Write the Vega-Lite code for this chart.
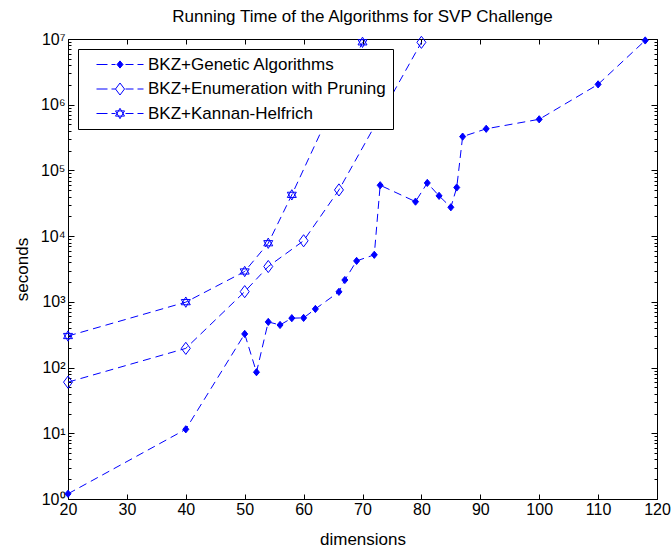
{
  "$schema": "https://vega.github.io/schema/vega-lite/v6.json",
  "width": 589,
  "height": 460,
  "autosize": {"type": "none"},
  "padding": {"left": 68, "top": 39, "right": 14, "bottom": 49},
  "background": "white",
  "title": {"text": "Running Time of the Algorithms for SVP Challenge", "font": "Liberation Sans", "fontSize": 17, "fontWeight": "normal", "color": "black", "anchor": "middle", "offset": 5},
  "config": {
    "view": {"stroke": null},
    "axis": {"grid": false, "domainColor": "black", "domainWidth": 1, "tickColor": "black", "tickWidth": 1, "labelColor": "black", "labelFont": "Liberation Sans", "labelFontSize": 16, "titleFont": "Liberation Sans", "titleFontSize": 17, "titleFontWeight": "normal", "titleColor": "black", "labelFlush": false, "labelOverlap": false}
  },
  "data": {
    "values": [
      {"series": "BKZ+Genetic Algorithms", "dim": 20, "seconds": 1.2},
      {"series": "BKZ+Genetic Algorithms", "dim": 40, "seconds": 11.5},
      {"series": "BKZ+Genetic Algorithms", "dim": 50, "seconds": 325},
      {"series": "BKZ+Genetic Algorithms", "dim": 52, "seconds": 85},
      {"series": "BKZ+Genetic Algorithms", "dim": 54, "seconds": 495},
      {"series": "BKZ+Genetic Algorithms", "dim": 56, "seconds": 445},
      {"series": "BKZ+Genetic Algorithms", "dim": 58, "seconds": 565},
      {"series": "BKZ+Genetic Algorithms", "dim": 60, "seconds": 570},
      {"series": "BKZ+Genetic Algorithms", "dim": 62, "seconds": 780},
      {"series": "BKZ+Genetic Algorithms", "dim": 66, "seconds": 1420},
      {"series": "BKZ+Genetic Algorithms", "dim": 67, "seconds": 2150},
      {"series": "BKZ+Genetic Algorithms", "dim": 69, "seconds": 4200},
      {"series": "BKZ+Genetic Algorithms", "dim": 72, "seconds": 5200},
      {"series": "BKZ+Genetic Algorithms", "dim": 73, "seconds": 59500},
      {"series": "BKZ+Genetic Algorithms", "dim": 79, "seconds": 33500},
      {"series": "BKZ+Genetic Algorithms", "dim": 81, "seconds": 64500},
      {"series": "BKZ+Genetic Algorithms", "dim": 83, "seconds": 41000},
      {"series": "BKZ+Genetic Algorithms", "dim": 85, "seconds": 27500},
      {"series": "BKZ+Genetic Algorithms", "dim": 86, "seconds": 55000},
      {"series": "BKZ+Genetic Algorithms", "dim": 87, "seconds": 327000},
      {"series": "BKZ+Genetic Algorithms", "dim": 91, "seconds": 430000},
      {"series": "BKZ+Genetic Algorithms", "dim": 100, "seconds": 600000},
      {"series": "BKZ+Genetic Algorithms", "dim": 110, "seconds": 2040000},
      {"series": "BKZ+Genetic Algorithms", "dim": 118, "seconds": 9500000},
      {"series": "BKZ+Enumeration with Pruning", "dim": 20, "seconds": 60},
      {"series": "BKZ+Enumeration with Pruning", "dim": 40, "seconds": 196},
      {"series": "BKZ+Enumeration with Pruning", "dim": 50, "seconds": 1430},
      {"series": "BKZ+Enumeration with Pruning", "dim": 54, "seconds": 3450},
      {"series": "BKZ+Enumeration with Pruning", "dim": 60, "seconds": 8500},
      {"series": "BKZ+Enumeration with Pruning", "dim": 66, "seconds": 50500},
      {"series": "BKZ+Enumeration with Pruning", "dim": 80, "seconds": 8900000},
      {"series": "BKZ+Kannan-Helfrich", "dim": 20, "seconds": 302},
      {"series": "BKZ+Kannan-Helfrich", "dim": 40, "seconds": 990},
      {"series": "BKZ+Kannan-Helfrich", "dim": 50, "seconds": 2900},
      {"series": "BKZ+Kannan-Helfrich", "dim": 54, "seconds": 7800},
      {"series": "BKZ+Kannan-Helfrich", "dim": 58, "seconds": 42500},
      {"series": "BKZ+Kannan-Helfrich", "dim": 70, "seconds": 8900000}
    ]
  },
  "layer": [
    {
      "mark": {"type": "line", "strokeDash": [8, 5], "strokeWidth": 1, "color": "#0000ff"},
      "encoding": {
        "x": {"field": "dim", "type": "quantitative", "scale": {"domain": [20, 120], "nice": false, "zero": false},
          "axis": {"orient": "bottom", "values": [20, 30, 40, 50, 60, 70, 80, 90, 100, 110, 120], "tickSize": -5, "labelPadding": 7, "title": "dimensions", "titlePadding": 14}},
        "y": {"field": "seconds", "type": "quantitative", "scale": {"type": "log", "domain": [1, 10000000], "nice": false},
          "axis": {"orient": "left", "title": "seconds", "titlePadding": 9, "labelPadding": 9,
            "values": [1,2,3,4,5,6,7,8,9,10,20,30,40,50,60,70,80,90,100,200,300,400,500,600,700,800,900,1000,2000,3000,4000,5000,6000,7000,8000,9000,10000,20000,30000,40000,50000,60000,70000,80000,90000,100000,200000,300000,400000,500000,600000,700000,800000,900000,1000000,2000000,3000000,4000000,5000000,6000000,7000000,8000000,9000000,10000000],
            "tickSize": {"condition": {"test": "abs(log(datum.value)/LN10 - round(log(datum.value)/LN10)) < 0.001", "value": -6}, "value": -3},
            "labelExpr": "abs(log(datum.value)/LN10 - round(log(datum.value)/LN10)) < 0.001 ? '10' + ['⁰','¹','²','³','⁴','⁵','⁶','⁷'][round(log(datum.value)/LN10)] : ''"}},
        "detail": {"field": "series"}
      }
    },
    {
      "mark": {"type": "point", "stroke": "#0000ff", "strokeWidth": 1, "opacity": 1},
      "encoding": {
        "x": {"field": "dim", "type": "quantitative",
          "axis": {"orient": "top", "values": [20, 30, 40, 50, 60, 70, 80, 90, 100, 110, 120], "tickSize": -5, "labels": false, "title": null}},
        "y": {"field": "seconds", "type": "quantitative",
          "axis": {"orient": "right", "labels": false, "title": null,
            "values": [1,2,3,4,5,6,7,8,9,10,20,30,40,50,60,70,80,90,100,200,300,400,500,600,700,800,900,1000,2000,3000,4000,5000,6000,7000,8000,9000,10000,20000,30000,40000,50000,60000,70000,80000,90000,100000,200000,300000,400000,500000,600000,700000,800000,900000,1000000,2000000,3000000,4000000,5000000,6000000,7000000,8000000,9000000,10000000],
            "tickSize": {"condition": {"test": "abs(log(datum.value)/LN10 - round(log(datum.value)/LN10)) < 0.001", "value": -6}, "value": -3}}},
        "shape": {"condition": [
            {"test": "datum.series === 'BKZ+Genetic Algorithms'", "value": "M0,-1.2L1,0L0,1.2L-1,0Z"},
            {"test": "datum.series === 'BKZ+Enumeration with Pruning'", "value": "M0,-1.35L1,0L0,1.35L-1,0Z"}],
          "value": "M0,-1.15L1,0.58L-1,0.58Z M0,1.15L1,-0.58L-1,-0.58Z"},
        "fill": {"condition": {"test": "datum.series === 'BKZ+Genetic Algorithms'", "value": "#0000ff"}, "value": "transparent"},
        "size": {"condition": {"test": "datum.series === 'BKZ+Genetic Algorithms'", "value": 36}, "value": 81}
      }
    },
    {
      "transform": [{"filter": "false"}],
      "mark": {"type": "point", "stroke": "#0000ff", "color": "#0000ff", "strokeWidth": 1, "size": 100, "opacity": 1},
      "encoding": {
        "x": {"field": "dim", "type": "quantitative", "axis": null},
        "y": {"field": "seconds", "type": "quantitative", "axis": null},
        "shape": {"field": "series", "type": "nominal",
          "scale": {"domain": ["BKZ+Genetic Algorithms", "BKZ+Enumeration with Pruning", "BKZ+Kannan-Helfrich"],
            "range": [
              "M0.6,0H2.8M3.6,0H4.4M6.4,0H8M8.8,0H10M5.3,-0.72L5.9,0L5.3,0.72L4.7,0Z",
              "M0.6,0H2.8M3.6,0H4.4M6.4,0H8M8.8,0H10M5.3,-1.2L6.2,0L5.3,1.2L4.4,0Z",
              "M0.6,0H2.8M3.6,0H4.4M6.4,0H8M8.8,0H10M5.3,-1.04L6.2,0.52L4.4,0.52ZM5.3,1.04L6.2,-0.52L4.4,-0.52Z"]},
          "legend": {"title": null, "orient": "none", "legendX": 10, "legendY": 10, "direction": "vertical", "strokeColor": "black", "fillColor": "white", "padding": 7, "rowPadding": 6.5, "symbolSize": 100, "symbolStrokeWidth": 1, "symbolOpacity": 1, "labelFont": "Liberation Sans", "labelFontSize": 17, "labelColor": "black", "labelOffset": 46, "labelLimit": 400}},
        "fill": {"field": "series", "type": "nominal",
          "scale": {"domain": ["BKZ+Genetic Algorithms", "BKZ+Enumeration with Pruning", "BKZ+Kannan-Helfrich"], "range": ["#0000ff", "transparent", "transparent"]},
          "legend": {"title": null, "orient": "none", "legendX": 10, "legendY": 10, "direction": "vertical", "strokeColor": "black", "fillColor": "white", "padding": 7, "rowPadding": 6.5, "symbolSize": 100, "symbolStrokeWidth": 1, "symbolOpacity": 1, "labelFont": "Liberation Sans", "labelFontSize": 17, "labelColor": "black", "labelOffset": 46, "labelLimit": 400}},
        "stroke": {"field": "series", "type": "nominal",
          "scale": {"domain": ["BKZ+Genetic Algorithms", "BKZ+Enumeration with Pruning", "BKZ+Kannan-Helfrich"], "range": ["#0000ff", "#0000ff", "#0000ff"]},
          "legend": {"title": null, "orient": "none", "legendX": 10, "legendY": 10, "direction": "vertical", "strokeColor": "black", "fillColor": "white", "padding": 7, "rowPadding": 6.5, "symbolSize": 100, "symbolStrokeWidth": 1, "symbolOpacity": 1, "labelFont": "Liberation Sans", "labelFontSize": 17, "labelColor": "black", "labelOffset": 46, "labelLimit": 400}}
      }
    }
  ],
  "resolve": {"axis": {"x": "independent", "y": "independent"}}
}
